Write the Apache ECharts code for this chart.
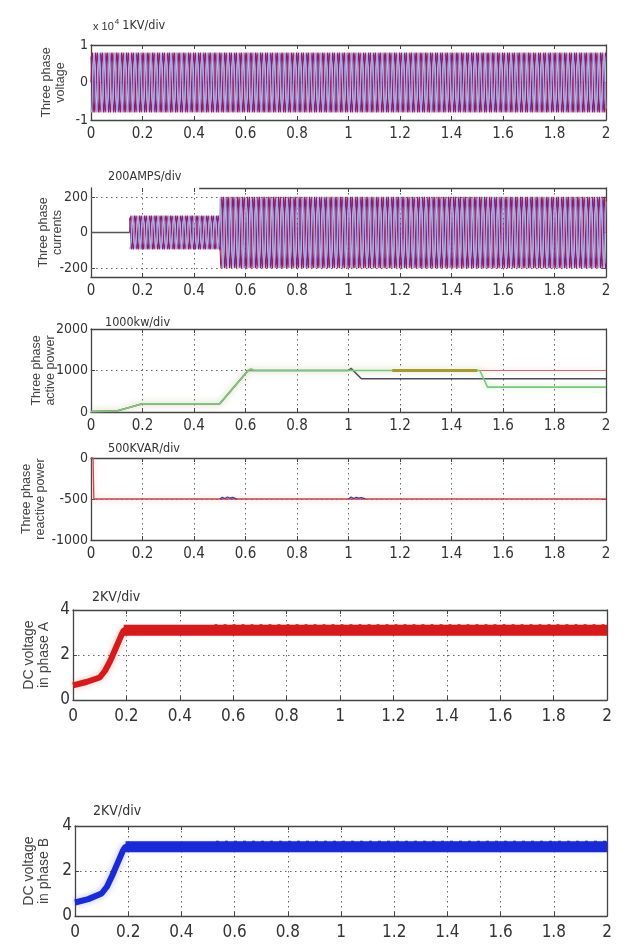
<!DOCTYPE html>
<html><head><meta charset="utf-8">
<script src="https://cdn.jsdelivr.net/npm/echarts@6/dist/echarts.min.js"></script>
<style>html,body{margin:0;padding:0;background:#fff}#c{width:626px;height:951px}</style>
</head><body><div id="c"></div>
<script>
// ================= DATA =================
const timeMin = 0, timeMax = 2, timeStep = 0.2;

// AC waveforms: 50 Hz (about 10 cycles per 0.2 s), one cycle sampled at 12 points
const FREQ = 50;
const cycleShape = [0, 0.5, 0.87, 1, 0.87, 0.5, 0, -0.5, -0.87, -1, -0.87, -0.5];
const phaseOffsets = [0, 4, 8];               // 120 degree shift, in samples
const phaseColors = ['#b0163e', '#7e1d86', '#96aee8'];

// three phase voltage: amplitude envelope (segment start times and amplitudes)
const voltSegT = [0, 2];
const voltSegAmp = [8000];
// three phase currents
const currSegT = [0.15, 0.5, 2];
const currSegAmp = [95, 200];
const currIdle = [[0, 0], [0.15, 0]];
const currTopBorderFrom = 0.42;

// active power (kW)
const pGray = [[0,10],[0.1,25],[0.2,200],[0.5,200],[0.61,1000],[1.0,1000],[1.01,1050],[1.05,800],[2,800]];
const pRed = [[0,10],[0.1,25],[0.2,200],[0.5,200],[0.61,1000],[2,1000]];
const pGreen = [[0,10],[0.1,25],[0.2,200],[0.5,200],[0.61,1000],[0.62,1040],[0.635,1000],[1.51,1000],[1.54,600],[2,600]];
const pYellow = [[1.17,1000],[1.5,1000]];

// reactive power (kVAR)
const qRed = [[0,0],[0.008,0],[0.011,-500],[2,-500]];
const qBlue1 = [[0.5,-500],[0.51,-480],[0.52,-494],[0.53,-476],[0.54,-490],[0.55,-480],[0.565,-498]];
const qBlue2 = [[1.0,-500],[1.01,-476],[1.02,-494],[1.03,-478],[1.04,-490],[1.05,-482],[1.065,-498]];

// DC voltages (kV)
const dcA = [[0,0.65],[0.05,0.8],[0.1,1.0],[0.12,1.3],[0.14,1.75],[0.16,2.3],[0.18,2.85],[0.19,3.1],[2,3.1]];
const dcAFlat = [[0.19,3.1],[2,3.1]];
const dcARipple = [[0.53,3.3],[2,3.3]];
const dcB = [[0,0.6],[0.05,0.75],[0.1,1.0],[0.12,1.3],[0.14,1.8],[0.16,2.35],[0.18,2.9],[0.19,3.08],[2,3.08]];
const dcBFlat = [[0.19,3.08],[2,3.08]];
const dcBRipple = [[0.53,3.28],[2,3.28]];

// axis ranges / ticks
const yRanges = [
  {min:-10000, max:10000, ticks:[-10000,0,10000]},
  {min:-250, max:250, ticks:[-200,0,200]},
  {min:0, max:2000, ticks:[0,1000,2000]},
  {min:-1000, max:0, ticks:[-1000,-500,0]},
  {min:0, max:4, ticks:[0,2,4]},
  {min:0, max:4, ticks:[0,2,4]}
];
const yNames = ['Three phase\nvoltage','Three phase\ncurrents','Three phase\nactive power','Three phase\nreactive power','DC voltage\nin phase A','DC voltage\nin phase B'];
const titles = ['x 10|4|1KV/div','200AMPS/div','1000kw/div','500KVAR/div','2KV/div','2KV/div'];

// ================= BUILD =================
function ampAt(t, segT, segAmp) {
  for (let i = 0; i < segAmp.length; i++) if (t >= segT[i] && t <= segT[i+1]) return segAmp[i];
  return 0;
}
function wave(segT, segAmp, off) {
  const out = [];
  const n = cycleShape.length;
  const t0 = segT[0], t1 = segT[segT.length-1];
  const total = Math.round((t1 - t0) * FREQ * n);
  for (let k = 0; k <= total; k++) {
    const t = t0 + k / (FREQ * n);
    out.push([+t.toFixed(5), ampAt(t, segT, segAmp) * cycleShape[(k + off) % n]]);
  }
  return out;
}

const grids = [
  {left:91, top:45, width:515, height:75},
  {left:91, top:188, width:515, height:89},
  {left:91, top:329, width:515, height:83},
  {left:91, top:458, width:515, height:82},
  {left:73, top:610, width:534, height:90},
  {left:75, top:826, width:532, height:90}
];
const nameGaps = [23, 26, 33, 43, 21, 23];
const FONT = '"Liberation Sans Narrow","DejaVu Sans Condensed",sans-serif';
const NAMEFONT = '"Liberation Sans",Arial,sans-serif';
const big = i => i >= 4;

const xAxes = [], yAxes = [];
grids.forEach((g, i) => {
  xAxes.push({
    type:'value', gridIndex:i, min:timeMin, max:timeMax, interval:timeStep, position:'bottom',
    axisLine:{show:true, onZero:false, lineStyle:{color:'#444', width:1.3}},
    axisTick:{show:true, inside:true, length:4, lineStyle:{color:'#444'}},
    axisLabel:{show:true, color:'#333', fontFamily:FONT, fontSize: big(i)?17:15, margin: big(i)?8:7},
    splitLine:{show: i !== 0, lineStyle:{type:[1.5,3.5], color:'#666', width:1}}
  });
  xAxes.push({
    type:'value', gridIndex:i, min:timeMin, max:timeMax, interval:timeStep, position:'top',
    axisLine:{show: i !== 1, onZero:false, lineStyle:{color:'#444', width:1.3}},
    axisTick:{show:true, inside:true, length:4, lineStyle:{color:'#444'}},
    axisLabel:{show:false}, splitLine:{show:false}
  });
  const r = yRanges[i];
  const useCustom = i === 1;
  yAxes.push({
    type:'value', gridIndex:i, min:r.min, max:r.max, interval: useCustom ? undefined : (r.max - r.min)/2,
    position:'left', name:yNames[i], nameLocation:'middle', nameGap:nameGaps[i], nameRotate:90,
    nameMoveOverlap:false,
    nameTextStyle:{color:'#444', fontFamily:NAMEFONT, fontSize: big(i)?14:12.5, lineHeight: big(i)?15:14},
    axisLine:{show:true, onZero:false, lineStyle:{color:'#444', width:1.3}},
    axisTick:{show:true, inside:true, length:4, lineStyle:{color:'#444'}, customValues: useCustom ? r.ticks : undefined},
    axisLabel:{show:true, color:'#333', fontFamily:FONT, fontSize: big(i)?17:14, margin:3,
      customValues: useCustom ? r.ticks : undefined,
      formatter: i === 0 ? (v => String(v/10000)) : (v => String(v))},
    splitLine:{show: !useCustom, lineStyle:{type:[1.5,3.5], color:'#666', width:1}}
  });
  yAxes.push({
    type:'value', gridIndex:i, min:r.min, max:r.max, interval: useCustom ? undefined : (r.max - r.min)/2,
    position:'right',
    axisLine:{show:true, onZero:false, lineStyle:{color:'#444', width:1.3}},
    axisTick:{show:true, inside:true, length:4, lineStyle:{color:'#444'}, customValues: useCustom ? r.ticks : undefined},
    axisLabel:{show:false}, splitLine:{show:false}
  });
});

const series = [];
function line(gi, data, color, width, extra) {
  series.push(Object.assign({
    type:'line', xAxisIndex:gi*2, yAxisIndex:gi*2, data, showSymbol:false, symbol:'none',
    animation:false, silent:true, lineStyle:{color, width}, z:3
  }, extra || {}));
}
// panel 1 voltage
phaseOffsets.forEach((off, p) => line(0, wave(voltSegT, voltSegAmp, off), phaseColors[p], 1.1));
// panel 2 currents
series.push({type:'line', xAxisIndex:2, yAxisIndex:2, data:[], z:1, animation:false, silent:true,
  markLine:{silent:true, symbol:'none', label:{show:false}, animation:false,
    lineStyle:{type:[1.5,3.5], color:'#666', width:1},
    data:[{yAxis:yRanges[1].ticks[0]}, {yAxis:yRanges[1].ticks[2]}]}});
series.push({type:'line', xAxisIndex:2, yAxisIndex:2, data:[], z:1, animation:false, silent:true,
  markLine:{silent:true, symbol:'none', label:{show:false}, animation:false,
    lineStyle:{type:'solid', color:'#444', width:1.3},
    data:[[{coord:[currTopBorderFrom, yRanges[1].max]}, {coord:[timeMax, yRanges[1].max]}]]}});
line(1, currIdle, '#555', 1.3);
phaseOffsets.forEach((off, p) => line(1, wave(currSegT, currSegAmp, off), phaseColors[p], 1.1));
// panel 3 active power
const glow = c => ({shadowColor:c, shadowBlur:6});
line(2, pGray, '#4d4d5c', 1.6);
line(2, pRed, '#d06a6a', 1.2, {lineStyle:Object.assign({color:'#d06a6a', width:1.2}, glow('rgba(230,120,120,0.5)'))});
line(2, pGreen, '#7cc77c', 1.6, {lineStyle:Object.assign({color:'#7cc77c', width:1.6}, glow('rgba(120,220,120,0.6)'))});
line(2, pYellow, '#a89a2a', 3.2);
// panel 4 reactive power
line(3, qRed, '#c44a4a', 1.3, {lineStyle:Object.assign({color:'#c44a4a', width:1.3}, glow('rgba(240,130,130,0.6)'))});
line(3, qBlue1, '#3c3c9c', 1.2);
line(3, qBlue2, '#3c3c9c', 1.2);
// panel 5 DC A
line(4, dcA, '#d41a1a', 6, {lineStyle:Object.assign({color:'#d41a1a', width:6}, glow('rgba(230,60,60,0.35)'))});
line(4, dcAFlat, '#d41a1a', 11);
line(4, dcARipple, '#d41a1a', 3, {lineStyle:{color:'#d41a1a', width:3, type:[3,6]}});
// panel 6 DC B
line(5, dcB, '#1a2ad4', 6, {lineStyle:Object.assign({color:'#1a2ad4', width:6}, glow('rgba(60,60,230,0.35)'))});
line(5, dcBFlat, '#1a2ad4', 11);
line(5, dcBRipple, '#1a2ad4', 3, {lineStyle:{color:'#1a2ad4', width:3, type:[3,6]}});

const titleTops = [13, 165, 311, 437, 585, 799];
const titleLefts = [88, 103, 100, 103, 87, 88];
const titleOpts = titles.map((t, i) => {
  const base = {left:titleLefts[i], top:titleTops[i]};
  if (t.indexOf('|') >= 0) {
    const parts = t.split('|');
    return Object.assign(base, {text:'{a|' + parts[0] + '}{s|' + parts[1] + '}{b|' + parts[2] + '}',
      textStyle:{fontWeight:'normal', rich:{
        a:{fontFamily:NAMEFONT, fontSize:11, fontWeight:'normal', color:'#333', verticalAlign:'bottom'},
        s:{fontFamily:NAMEFONT, fontSize:8, fontWeight:'normal', color:'#333', verticalAlign:'top', padding:[0,3,6,1]},
        b:{fontFamily:FONT, fontSize:12.5, fontWeight:'normal', color:'#333', verticalAlign:'bottom'}}}});
  }
  return Object.assign(base, {text:t,
    textStyle:{fontFamily:FONT, fontSize: big(i)?14:12.5, fontWeight:'normal', color:'#333'}});
});

const chart = echarts.init(document.getElementById('c'), null, {renderer:'canvas'});
chart.setOption({
  backgroundColor:'#fff', animation:false,
  title:titleOpts, grid:grids, xAxis:xAxes, yAxis:yAxes, series
});
</script></body></html>
